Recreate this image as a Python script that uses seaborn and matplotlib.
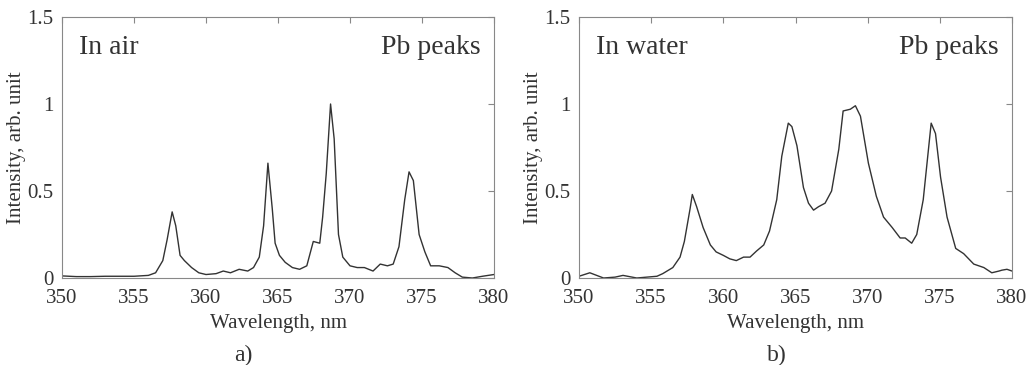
import numpy as np
import pandas as pd
import matplotlib
matplotlib.use("Agg")
import matplotlib.pyplot as plt
import seaborn as sns

# spectrum a) - in air (values read off the picture)
air_wl = [350, 351, 352, 353, 354, 355, 356, 356.5, 357, 357.3, 357.65, 357.9, 358.2, 358.5,
          359, 359.5, 360, 360.7, 361.2, 361.7, 362.3, 362.9, 363.3, 363.7, 364.0, 364.3,
          364.6, 364.8, 365.1, 365.5, 366, 366.5, 367, 367.45, 367.9, 368.1, 368.35, 368.65,
          368.9, 369.2, 369.5, 370, 370.5, 371.0, 371.6, 372.1, 372.6, 373.0, 373.4, 373.8,
          374.1, 374.4, 374.8, 375.2, 375.6, 376.2, 376.8, 377.3, 377.8, 378.5, 379.2, 380]
air_int = [0.012, 0.008, 0.008, 0.010, 0.010, 0.010, 0.015, 0.03, 0.10, 0.22, 0.38, 0.30, 0.13, 0.10,
           0.06, 0.03, 0.02, 0.025, 0.04, 0.03, 0.05, 0.04, 0.06, 0.12, 0.30, 0.66,
           0.40, 0.20, 0.13, 0.09, 0.06, 0.05, 0.07, 0.21, 0.20, 0.35, 0.60, 1.00,
           0.80, 0.25, 0.12, 0.07, 0.06, 0.06, 0.04, 0.08, 0.07, 0.08, 0.18, 0.45,
           0.61, 0.56, 0.25, 0.15, 0.07, 0.07, 0.06, 0.03, 0.005, 0.0, 0.01, 0.02]

# spectrum b) - in water
water_wl = [350, 350.75, 351.7, 352.5, 353.05, 354, 355.4, 355.8, 356.5, 357, 357.3, 357.7, 357.85,
            358.15, 358.6, 359.1, 359.5, 360, 360.45, 360.9, 361.4, 361.85, 362.3, 362.8, 363.2,
            363.7, 364.05, 364.5, 364.75, 365.1, 365.55, 365.9, 366.25, 366.6, 367.05, 367.5,
            368, 368.3, 368.8, 369.15, 369.5, 370.05, 370.6, 371.1, 371.7, 372.25, 372.6,
            373.05, 373.4, 373.85, 374.4, 374.7, 375.05, 375.5, 376.1, 376.65, 377.35, 378.05,
            378.6, 379.1, 379.3, 379.65, 380]
water_int = [0.01, 0.03, 0.0, 0.005, 0.015, 0.0, 0.01, 0.025, 0.06, 0.12, 0.21, 0.40, 0.48,
             0.41, 0.29, 0.19, 0.15, 0.13, 0.11, 0.10, 0.12, 0.12, 0.155, 0.19, 0.27,
             0.45, 0.70, 0.89, 0.87, 0.76, 0.52, 0.43, 0.39, 0.41, 0.43, 0.50,
             0.74, 0.96, 0.97, 0.99, 0.93, 0.66, 0.47, 0.35, 0.29, 0.23, 0.23,
             0.20, 0.25, 0.45, 0.89, 0.83, 0.58, 0.35, 0.17, 0.14, 0.08, 0.06,
             0.03, 0.04, 0.045, 0.05, 0.04]

panels = [
    ("In air", "a)", air_wl, air_int, [62, 494], 243),
    ("In water", "b)", water_wl, water_int, [579, 1012], 777),
]

sns.set_theme(style="white")
plt.rcParams["font.family"] = ["Liberation Serif", "DejaVu Serif"]

W, H = 1029, 365
fig = plt.figure(figsize=(W / 100, H / 100), dpi=100)

for env, tag, wl, inten, (x0, x1), tag_x in panels:
    ax = fig.add_axes([x0 / W, (H - 278) / H, (x1 - x0) / W, (278 - 17) / H])
    df = pd.DataFrame({"wl": wl, "intensity": inten})
    sns.lineplot(data=df, x="wl", y="intensity", ax=ax, color="#333333", linewidth=1.0)
    ax.set_xlim(350, 380)
    ax.set_ylim(0, 1.5)
    ax.set_xticks(np.arange(350, 381, 5))
    ax.set_yticks([0, 0.5, 1, 1.5])
    ax.set_yticklabels(["0", "0.5", "1", "1.5"])
    ax.tick_params(direction="in", top=True, right=True, length=4, width=0.8,
                   colors="#888888", labelcolor="#333333", labelsize=15)
    ax.tick_params(axis="x", pad=8)
    ax.tick_params(axis="y", pad=6)
    for s in ax.spines.values():
        s.set_color("#888888")
        s.set_linewidth(0.8)
    ax.set_xlabel("Wavelength, nm", fontsize=15, color="#333333", labelpad=4)
    ax.set_ylabel("Intensity, arb. unit", fontsize=15, color="#333333", labelpad=1)
    ax.text(0.04, 0.885, env, transform=ax.transAxes, fontsize=20, color="#333333",
            ha="left", va="center")
    ax.text(0.97, 0.885, "Pb peaks", transform=ax.transAxes, fontsize=20, color="#333333",
            ha="right", va="center")
    fig.text(tag_x / W, 1 - 355 / H, tag, fontsize=17, color="#333333",
             ha="center", va="center")

fig.savefig("out.png", dpi=100)
